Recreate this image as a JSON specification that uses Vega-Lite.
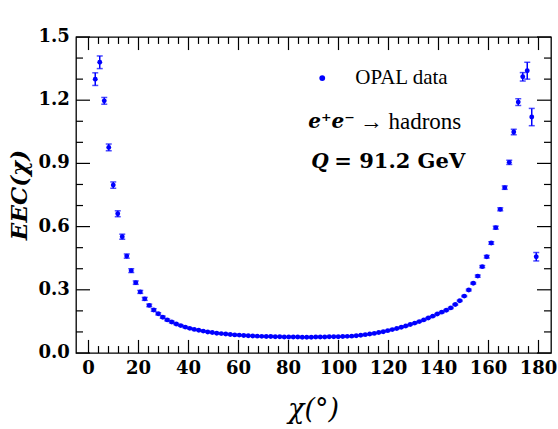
{
  "$schema": "https://vega.github.io/schema/vega-lite/v6.json",
  "width": 475,
  "height": 316,
  "autosize": {"type": "none"},
  "padding": {"left": 76, "top": 37, "right": 7, "bottom": 76},
  "background": "white",
  "config": {
    "view": {"stroke": "#000", "strokeWidth": 1.3}
  },
  "datasets": {
    "eec": [
      {"chi": 2.7, "eec": 1.300, "err": 0.03},
      {"chi": 4.5, "eec": 1.380, "err": 0.03},
      {"chi": 6.3, "eec": 1.197, "err": 0.016},
      {"chi": 8.1, "eec": 0.976, "err": 0.016},
      {"chi": 9.9, "eec": 0.797, "err": 0.015},
      {"chi": 11.7, "eec": 0.661, "err": 0.014},
      {"chi": 13.5, "eec": 0.552, "err": 0.012},
      {"chi": 15.3, "eec": 0.460, "err": 0.010},
      {"chi": 17.1, "eec": 0.391, "err": 0.009},
      {"chi": 18.9, "eec": 0.334, "err": 0.008},
      {"chi": 20.7, "eec": 0.290, "err": 0.007},
      {"chi": 22.5, "eec": 0.257, "err": 0.007},
      {"chi": 24.3, "eec": 0.226, "err": 0.006},
      {"chi": 26.1, "eec": 0.204, "err": 0.006},
      {"chi": 27.9, "eec": 0.186, "err": 0.005},
      {"chi": 29.7, "eec": 0.170, "err": 0.005},
      {"chi": 31.5, "eec": 0.157, "err": 0.004},
      {"chi": 33.3, "eec": 0.147, "err": 0.004},
      {"chi": 35.1, "eec": 0.138, "err": 0.003},
      {"chi": 36.9, "eec": 0.130, "err": 0.003},
      {"chi": 38.7, "eec": 0.123, "err": 0.003},
      {"chi": 40.5, "eec": 0.117, "err": 0.003},
      {"chi": 42.3, "eec": 0.112, "err": 0.002},
      {"chi": 44.1, "eec": 0.108, "err": 0.002},
      {"chi": 45.9, "eec": 0.104, "err": 0.002},
      {"chi": 47.7, "eec": 0.100, "err": 0.002},
      {"chi": 49.5, "eec": 0.097, "err": 0.002},
      {"chi": 51.3, "eec": 0.094, "err": 0.002},
      {"chi": 53.1, "eec": 0.092, "err": 0.002},
      {"chi": 54.9, "eec": 0.090, "err": 0.002},
      {"chi": 56.7, "eec": 0.088, "err": 0.002},
      {"chi": 58.5, "eec": 0.086, "err": 0.002},
      {"chi": 60.3, "eec": 0.085, "err": 0.002},
      {"chi": 62.1, "eec": 0.083, "err": 0.002},
      {"chi": 63.9, "eec": 0.082, "err": 0.002},
      {"chi": 65.7, "eec": 0.081, "err": 0.002},
      {"chi": 67.5, "eec": 0.080, "err": 0.002},
      {"chi": 69.3, "eec": 0.079, "err": 0.002},
      {"chi": 71.1, "eec": 0.078, "err": 0.002},
      {"chi": 72.9, "eec": 0.078, "err": 0.002},
      {"chi": 74.7, "eec": 0.077, "err": 0.002},
      {"chi": 76.5, "eec": 0.077, "err": 0.002},
      {"chi": 78.3, "eec": 0.076, "err": 0.002},
      {"chi": 80.1, "eec": 0.076, "err": 0.002},
      {"chi": 81.9, "eec": 0.076, "err": 0.002},
      {"chi": 83.7, "eec": 0.076, "err": 0.002},
      {"chi": 85.5, "eec": 0.075, "err": 0.002},
      {"chi": 87.3, "eec": 0.075, "err": 0.002},
      {"chi": 89.1, "eec": 0.075, "err": 0.002},
      {"chi": 90.9, "eec": 0.076, "err": 0.002},
      {"chi": 92.7, "eec": 0.076, "err": 0.002},
      {"chi": 94.5, "eec": 0.076, "err": 0.002},
      {"chi": 96.3, "eec": 0.077, "err": 0.002},
      {"chi": 98.1, "eec": 0.077, "err": 0.002},
      {"chi": 99.9, "eec": 0.077, "err": 0.002},
      {"chi": 101.7, "eec": 0.078, "err": 0.002},
      {"chi": 103.5, "eec": 0.079, "err": 0.002},
      {"chi": 105.3, "eec": 0.080, "err": 0.002},
      {"chi": 107.1, "eec": 0.082, "err": 0.002},
      {"chi": 108.9, "eec": 0.084, "err": 0.002},
      {"chi": 110.7, "eec": 0.087, "err": 0.002},
      {"chi": 112.5, "eec": 0.090, "err": 0.002},
      {"chi": 114.3, "eec": 0.093, "err": 0.002},
      {"chi": 116.1, "eec": 0.097, "err": 0.002},
      {"chi": 117.9, "eec": 0.101, "err": 0.002},
      {"chi": 119.7, "eec": 0.106, "err": 0.002},
      {"chi": 121.5, "eec": 0.111, "err": 0.002},
      {"chi": 123.3, "eec": 0.116, "err": 0.002},
      {"chi": 125.1, "eec": 0.122, "err": 0.002},
      {"chi": 126.9, "eec": 0.128, "err": 0.002},
      {"chi": 128.7, "eec": 0.135, "err": 0.002},
      {"chi": 130.5, "eec": 0.142, "err": 0.002},
      {"chi": 132.3, "eec": 0.149, "err": 0.002},
      {"chi": 134.1, "eec": 0.157, "err": 0.002},
      {"chi": 135.9, "eec": 0.166, "err": 0.002},
      {"chi": 137.7, "eec": 0.175, "err": 0.002},
      {"chi": 139.5, "eec": 0.185, "err": 0.002},
      {"chi": 141.3, "eec": 0.194, "err": 0.003},
      {"chi": 143.1, "eec": 0.203, "err": 0.003},
      {"chi": 144.9, "eec": 0.214, "err": 0.003},
      {"chi": 146.7, "eec": 0.230, "err": 0.003},
      {"chi": 148.5, "eec": 0.248, "err": 0.003},
      {"chi": 150.3, "eec": 0.270, "err": 0.003},
      {"chi": 152.1, "eec": 0.299, "err": 0.004},
      {"chi": 153.9, "eec": 0.331, "err": 0.004},
      {"chi": 155.7, "eec": 0.365, "err": 0.005},
      {"chi": 157.5, "eec": 0.410, "err": 0.005},
      {"chi": 159.3, "eec": 0.457, "err": 0.006},
      {"chi": 161.1, "eec": 0.522, "err": 0.006},
      {"chi": 162.9, "eec": 0.595, "err": 0.007},
      {"chi": 164.7, "eec": 0.682, "err": 0.007},
      {"chi": 166.5, "eec": 0.785, "err": 0.008},
      {"chi": 168.3, "eec": 0.905, "err": 0.010},
      {"chi": 170.1, "eec": 1.049, "err": 0.013},
      {"chi": 171.9, "eec": 1.191, "err": 0.016},
      {"chi": 173.7, "eec": 1.311, "err": 0.020},
      {"chi": 175.5, "eec": 1.340, "err": 0.040},
      {"chi": 177.3, "eec": 1.120, "err": 0.041},
      {"chi": 179.1, "eec": 0.457, "err": 0.020}
    ],
    "notes": [
      {"x": 93.5, "y": 1.305, "kind": "dot", "label": ""},
      {"x": 106.7, "y": 1.305, "kind": "reg", "label": "OPAL data"},
      {"x": 87.9, "y": 1.096, "kind": "bi", "label": "e⁺e⁻"},
      {"x": 108.5, "y": 1.096, "kind": "reg2", "label": "→ hadrons"},
      {"x": 89.1, "y": 0.906, "kind": "bi", "label": "Q"},
      {"x": 98.3, "y": 0.906, "kind": "b", "label": "= 91.2 GeV"},
      {"x": 90, "y": -0.27, "kind": "xt", "label": "χ(°)"},
      {"x": -27.4, "y": 0.75, "kind": "yt", "label": "EEC(χ)"}
    ],
    "xticks": [
      {"v": 0, "major": true}, {"v": 4, "major": false}, {"v": 8, "major": false}, {"v": 12, "major": false}, {"v": 16, "major": false},
      {"v": 20, "major": true}, {"v": 24, "major": false}, {"v": 28, "major": false}, {"v": 32, "major": false}, {"v": 36, "major": false},
      {"v": 40, "major": true}, {"v": 44, "major": false}, {"v": 48, "major": false}, {"v": 52, "major": false}, {"v": 56, "major": false},
      {"v": 60, "major": true}, {"v": 64, "major": false}, {"v": 68, "major": false}, {"v": 72, "major": false}, {"v": 76, "major": false},
      {"v": 80, "major": true}, {"v": 84, "major": false}, {"v": 88, "major": false}, {"v": 92, "major": false}, {"v": 96, "major": false},
      {"v": 100, "major": true}, {"v": 104, "major": false}, {"v": 108, "major": false}, {"v": 112, "major": false}, {"v": 116, "major": false},
      {"v": 120, "major": true}, {"v": 124, "major": false}, {"v": 128, "major": false}, {"v": 132, "major": false}, {"v": 136, "major": false},
      {"v": 140, "major": true}, {"v": 144, "major": false}, {"v": 148, "major": false}, {"v": 152, "major": false}, {"v": 156, "major": false},
      {"v": 160, "major": true}, {"v": 164, "major": false}, {"v": 168, "major": false}, {"v": 172, "major": false}, {"v": 176, "major": false},
      {"v": 180, "major": true}
    ],
    "yticks": [
      {"v": 0.0, "major": true}, {"v": 0.1, "major": false}, {"v": 0.2, "major": false},
      {"v": 0.3, "major": true}, {"v": 0.4, "major": false}, {"v": 0.5, "major": false},
      {"v": 0.6, "major": true}, {"v": 0.7, "major": false}, {"v": 0.8, "major": false},
      {"v": 0.9, "major": true}, {"v": 1.0, "major": false}, {"v": 1.1, "major": false},
      {"v": 1.2, "major": true}, {"v": 1.3, "major": false}, {"v": 1.4, "major": false},
      {"v": 1.5, "major": true}
    ]
  },
  "layer": [
    {
      "data": {"name": "xticks"},
      "transform": [{"filter": "datum.major"}],
      "mark": {"type": "text", "align": "center", "baseline": "middle", "font": "DejaVu Serif, serif", "fontSize": 18, "fontWeight": "bold", "color": "#000"},
      "encoding": {
        "x": {"field": "v", "type": "quantitative", "scale": {"domain": [-5, 185], "nice": false, "zero": false}, "axis": null},
        "y": {"datum": -0.075, "type": "quantitative", "scale": {"domain": [0, 1.5], "nice": false, "zero": false}, "axis": null},
        "text": {"field": "v", "type": "quantitative", "format": "d"}
      }
    },
    {
      "data": {"name": "yticks"},
      "transform": [{"filter": "datum.major"}],
      "mark": {"type": "text", "align": "right", "baseline": "middle", "font": "DejaVu Serif, serif", "fontSize": 18, "fontWeight": "bold", "color": "#000"},
      "encoding": {
        "y": {"field": "v", "type": "quantitative", "scale": {"domain": [0, 1.5], "nice": false, "zero": false}, "axis": null},
        "x": {"datum": -7.5, "type": "quantitative", "scale": {"domain": [-5, 185], "nice": false, "zero": false}, "axis": null},
        "text": {"field": "v", "type": "quantitative", "format": ".1f"}
      }
    },
    {
      "data": {"name": "eec"},
      "mark": {"type": "errorbar", "ticks": {"size": 6, "thickness": 1.5}, "thickness": 1.5, "color": "#0000ff"},
      "encoding": {
        "x": {"field": "chi", "type": "quantitative", "scale": {"domain": [-5, 185], "nice": false, "zero": false}, "axis": null},
        "y": {"field": "eec", "type": "quantitative", "scale": {"domain": [0, 1.5], "nice": false, "zero": false}, "axis": null},
        "yError": {"field": "err"}
      }
    },
    {
      "data": {"name": "eec"},
      "mark": {"type": "circle", "size": 24, "color": "#0000ff", "opacity": 1},
      "encoding": {
        "x": {"field": "chi", "type": "quantitative", "scale": {"domain": [-5, 185], "nice": false, "zero": false}, "axis": null},
        "y": {"field": "eec", "type": "quantitative", "scale": {"domain": [0, 1.5], "nice": false, "zero": false}, "axis": null}
      }
    },
    {
      "data": {"name": "notes"},
      "transform": [{"filter": "datum.kind === 'dot'"}],
      "mark": {"type": "circle", "size": 34, "color": "#0000ff", "opacity": 1},
      "encoding": {
        "x": {"field": "x", "type": "quantitative", "scale": {"domain": [-5, 185], "nice": false, "zero": false}, "axis": null},
        "y": {"field": "y", "type": "quantitative", "scale": {"domain": [0, 1.5], "nice": false, "zero": false}, "axis": null}
      }
    },
    {
      "data": {"name": "notes"},
      "transform": [{"filter": "datum.kind === 'reg'"}],
      "mark": {"type": "text", "align": "left", "baseline": "middle", "font": "Liberation Serif, DejaVu Serif, serif", "fontSize": 21, "color": "#000"},
      "encoding": {
        "x": {"field": "x", "type": "quantitative", "scale": {"domain": [-5, 185], "nice": false, "zero": false}, "axis": null},
        "y": {"field": "y", "type": "quantitative", "scale": {"domain": [0, 1.5], "nice": false, "zero": false}, "axis": null},
        "text": {"field": "label"}
      }
    },
    {
      "data": {"name": "notes"},
      "transform": [{"filter": "datum.kind === 'reg2'"}],
      "mark": {"type": "text", "align": "left", "baseline": "middle", "font": "Liberation Serif, DejaVu Serif, serif", "fontSize": 23, "color": "#000"},
      "encoding": {
        "x": {"field": "x", "type": "quantitative", "scale": {"domain": [-5, 185], "nice": false, "zero": false}, "axis": null},
        "y": {"field": "y", "type": "quantitative", "scale": {"domain": [0, 1.5], "nice": false, "zero": false}, "axis": null},
        "text": {"field": "label"}
      }
    },
    {
      "data": {"name": "notes"},
      "transform": [{"filter": "datum.kind === 'bi'"}],
      "mark": {"type": "text", "align": "left", "baseline": "middle", "font": "DejaVu Serif, serif", "fontSize": 20, "fontWeight": "bold", "fontStyle": "italic", "color": "#000"},
      "encoding": {
        "x": {"field": "x", "type": "quantitative", "scale": {"domain": [-5, 185], "nice": false, "zero": false}, "axis": null},
        "y": {"field": "y", "type": "quantitative", "scale": {"domain": [0, 1.5], "nice": false, "zero": false}, "axis": null},
        "text": {"field": "label"}
      }
    },
    {
      "data": {"name": "notes"},
      "transform": [{"filter": "datum.kind === 'b'"}],
      "mark": {"type": "text", "align": "left", "baseline": "middle", "font": "DejaVu Serif, serif", "fontSize": 21, "fontWeight": "bold", "color": "#000"},
      "encoding": {
        "x": {"field": "x", "type": "quantitative", "scale": {"domain": [-5, 185], "nice": false, "zero": false}, "axis": null},
        "y": {"field": "y", "type": "quantitative", "scale": {"domain": [0, 1.5], "nice": false, "zero": false}, "axis": null},
        "text": {"field": "label"}
      }
    },
    {
      "data": {"name": "notes"},
      "transform": [{"filter": "datum.kind === 'xt'"}],
      "mark": {"type": "text", "align": "center", "baseline": "middle", "font": "DejaVu Serif, serif", "fontSize": 27, "fontStyle": "italic", "color": "#000"},
      "encoding": {
        "x": {"field": "x", "type": "quantitative", "scale": {"domain": [-5, 185], "nice": false, "zero": false}, "axis": null},
        "y": {"field": "y", "type": "quantitative", "scale": {"domain": [0, 1.5], "nice": false, "zero": false}, "axis": null},
        "text": {"field": "label"}
      }
    },
    {
      "data": {"name": "notes"},
      "transform": [{"filter": "datum.kind === 'yt'"}],
      "mark": {"type": "text", "align": "center", "baseline": "middle", "angle": 270, "font": "DejaVu Serif, serif", "fontSize": 23, "fontWeight": "bold", "fontStyle": "italic", "color": "#000"},
      "encoding": {
        "x": {"field": "x", "type": "quantitative", "scale": {"domain": [-5, 185], "nice": false, "zero": false}, "axis": null},
        "y": {"field": "y", "type": "quantitative", "scale": {"domain": [0, 1.5], "nice": false, "zero": false}, "axis": null},
        "text": {"field": "label"}
      }
    },
    {
      "data": {"name": "xticks"},
      "transform": [{"filter": "datum.major"}],
      "mark": {"type": "rule", "strokeWidth": 1.2, "color": "#000", "opacity": 1},
      "encoding": {
        "x": {"field": "v", "type": "quantitative", "scale": {"domain": [-5, 185], "nice": false, "zero": false}, "axis": null},
        "y": {"datum": 0, "type": "quantitative", "scale": {"domain": [0, 1.5], "nice": false, "zero": false}, "axis": null},
        "y2": {"datum": 0.062}
      }
    },
    {
      "data": {"name": "xticks"},
      "transform": [{"filter": "!datum.major"}],
      "mark": {"type": "rule", "strokeWidth": 1.2, "color": "#000", "opacity": 1},
      "encoding": {
        "x": {"field": "v", "type": "quantitative", "scale": {"domain": [-5, 185], "nice": false, "zero": false}, "axis": null},
        "y": {"datum": 0, "type": "quantitative", "scale": {"domain": [0, 1.5], "nice": false, "zero": false}, "axis": null},
        "y2": {"datum": 0.033}
      }
    },
    {
      "data": {"name": "xticks"},
      "transform": [{"filter": "datum.major"}],
      "mark": {"type": "rule", "strokeWidth": 1.2, "color": "#000", "opacity": 1},
      "encoding": {
        "x": {"field": "v", "type": "quantitative", "scale": {"domain": [-5, 185], "nice": false, "zero": false}, "axis": null},
        "y": {"datum": 1.5, "type": "quantitative", "scale": {"domain": [0, 1.5], "nice": false, "zero": false}, "axis": null},
        "y2": {"datum": 1.438}
      }
    },
    {
      "data": {"name": "xticks"},
      "transform": [{"filter": "!datum.major"}],
      "mark": {"type": "rule", "strokeWidth": 1.2, "color": "#000", "opacity": 1},
      "encoding": {
        "x": {"field": "v", "type": "quantitative", "scale": {"domain": [-5, 185], "nice": false, "zero": false}, "axis": null},
        "y": {"datum": 1.5, "type": "quantitative", "scale": {"domain": [0, 1.5], "nice": false, "zero": false}, "axis": null},
        "y2": {"datum": 1.467}
      }
    },
    {
      "data": {"name": "yticks"},
      "transform": [{"filter": "datum.major"}],
      "mark": {"type": "rule", "strokeWidth": 1.2, "color": "#000", "opacity": 1},
      "encoding": {
        "y": {"field": "v", "type": "quantitative", "scale": {"domain": [0, 1.5], "nice": false, "zero": false}, "axis": null},
        "x": {"datum": -5, "type": "quantitative", "scale": {"domain": [-5, 185], "nice": false, "zero": false}, "axis": null},
        "x2": {"datum": 0.6}
      }
    },
    {
      "data": {"name": "yticks"},
      "transform": [{"filter": "!datum.major"}],
      "mark": {"type": "rule", "strokeWidth": 1.2, "color": "#000", "opacity": 1},
      "encoding": {
        "y": {"field": "v", "type": "quantitative", "scale": {"domain": [0, 1.5], "nice": false, "zero": false}, "axis": null},
        "x": {"datum": -5, "type": "quantitative", "scale": {"domain": [-5, 185], "nice": false, "zero": false}, "axis": null},
        "x2": {"datum": -2.2}
      }
    },
    {
      "data": {"name": "yticks"},
      "transform": [{"filter": "datum.major"}],
      "mark": {"type": "rule", "strokeWidth": 1.2, "color": "#000", "opacity": 1},
      "encoding": {
        "y": {"field": "v", "type": "quantitative", "scale": {"domain": [0, 1.5], "nice": false, "zero": false}, "axis": null},
        "x": {"datum": 185, "type": "quantitative", "scale": {"domain": [-5, 185], "nice": false, "zero": false}, "axis": null},
        "x2": {"datum": 179.4}
      }
    },
    {
      "data": {"name": "yticks"},
      "transform": [{"filter": "!datum.major"}],
      "mark": {"type": "rule", "strokeWidth": 1.2, "color": "#000", "opacity": 1},
      "encoding": {
        "y": {"field": "v", "type": "quantitative", "scale": {"domain": [0, 1.5], "nice": false, "zero": false}, "axis": null},
        "x": {"datum": 185, "type": "quantitative", "scale": {"domain": [-5, 185], "nice": false, "zero": false}, "axis": null},
        "x2": {"datum": 182.2}
      }
    }
  ]
}
